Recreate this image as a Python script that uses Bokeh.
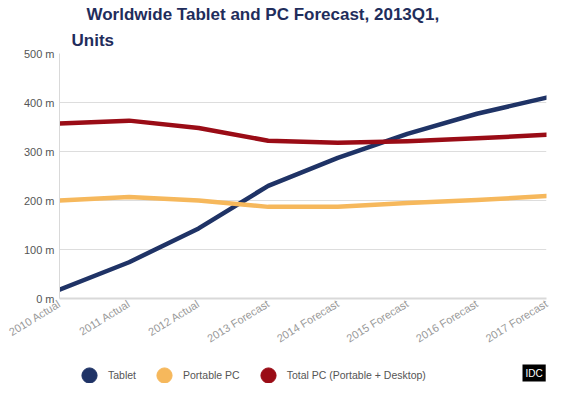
from bokeh.plotting import figure
from bokeh.models import (Title, Legend, LegendItem, Label, FixedTicker, Range1d)
from bokeh.layouts import column
from bokeh.embed import file_html
from bokeh.resources import INLINE

years = ["2010 Actual", "2011 Actual", "2012 Actual", "2013 Forecast",
         "2014 Forecast", "2015 Forecast", "2016 Forecast", "2017 Forecast"]
tablet = [18, 74, 143, 230, 287, 336, 377, 410]
portable_pc = [200, 207, 200, 187, 187, 195, 201, 209]
total_pc = [357, 363, 348, 322, 318, 321, 327, 334]
y_ticks = [0, 100, 200, 300, 400, 500]
y_tick_labels = ["0 m", "100 m", "200 m", "300 m", "400 m", "500 m"]

series_names = ["Tablet", "Portable PC", "Total PC (Portable + Desktop)"]
colors = ["#1f3366", "#f6b85c", "#9a0c16"]

FONT = "Liberation Sans"

p = figure(width=554, height=360, output_backend="svg", toolbar_location=None,
           x_range=(0, len(years) - 1), y_range=(0, 500),
           min_border_left=59, min_border_right=8, min_border_top=0,
           min_border_bottom=62)
p.title.visible = False
p.outline_line_color = None

xs = list(range(len(years)))
for vals, c in zip([tablet, portable_pc, total_pc], colors):
    p.line(xs, vals, line_color=c, line_width=4.5, line_cap="round", line_join="round")

# axes
p.xaxis.ticker = FixedTicker(ticks=xs)
p.xaxis.major_label_overrides = {i: y for i, y in enumerate(years)}
p.xaxis.major_label_orientation = 0.55
p.xaxis.major_label_text_font = FONT
p.xaxis.major_label_text_font_size = "11px"
p.xaxis.major_label_text_color = "#999999"
p.xaxis.axis_line_color = "#d9d9d9"
p.xaxis.axis_line_width = 2
p.xaxis.major_tick_line_color = None
p.xaxis.minor_tick_line_color = None
p.xaxis.major_tick_out = 0
p.xaxis.major_label_standoff = 4

p.yaxis.ticker = FixedTicker(ticks=y_ticks)
p.yaxis.major_label_overrides = {t: l for t, l in zip(y_ticks, y_tick_labels)}
p.yaxis.major_label_text_font = FONT
p.yaxis.major_label_text_font_size = "11px"
p.yaxis.major_label_text_color = "#555555"
p.yaxis.axis_line_color = "#d9d9d9"
p.yaxis.major_tick_line_color = None
p.yaxis.minor_tick_line_color = None
p.yaxis.major_tick_out = 0
p.yaxis.major_label_standoff = 5

p.xgrid.grid_line_color = None
p.ygrid.grid_line_color = "#dddddd"

# titles (later-added appear higher)
t2 = Title(text="Units", align="left", offset=12, text_font=FONT,
           text_font_size="17px", text_font_style="bold", text_color="#1f2d5c",
           standoff=7)
t1 = Title(text="Worldwide Tablet and PC Forecast, 2013Q1,", align="left", offset=27,
           text_font=FONT, text_font_size="17px", text_font_style="bold",
           text_color="#1f2d5c", standoff=4)
p.add_layout(t2, "above")
p.add_layout(t1, "above")

# legend strip
lg = figure(width=554, height=23, output_backend="svg", toolbar_location=None,
            x_range=Range1d(0, 1), y_range=Range1d(0, 1),
            min_border_left=59, min_border_right=8, min_border_top=0,
            min_border_bottom=0, x_axis_type=None, y_axis_type=None)
lg.title.visible = False
lg.outline_line_color = None
lg.xgrid.grid_line_color = None
lg.ygrid.grid_line_color = None

legend_items = []
for name, c in zip(series_names, colors):
    r = lg.scatter(x=[-10], y=[-10], marker="circle", size=15, fill_color=c, line_color=c)
    legend_items.append(LegendItem(label=name, renderers=[r]))

legend = Legend(items=legend_items, orientation="horizontal", location=(11, -11),
                background_fill_alpha=0, border_line_color=None,
                label_text_font=FONT, label_text_font_size="10.5px",
                label_text_color="#555555", glyph_width=38, glyph_height=38,
                spacing=9, label_standoff=0, padding=0, margin=0)
lg.add_layout(legend, "center")

idc = Label(x=463, y=2, x_units="screen", y_units="screen", text="IDC",
            text_font=FONT, text_font_size="10px", text_color="white",
            background_fill_color="black", padding=3)
lg.add_layout(idc)

layout = column(p, lg, spacing=0)
open("out.html", "w").write(file_html(layout, INLINE))
